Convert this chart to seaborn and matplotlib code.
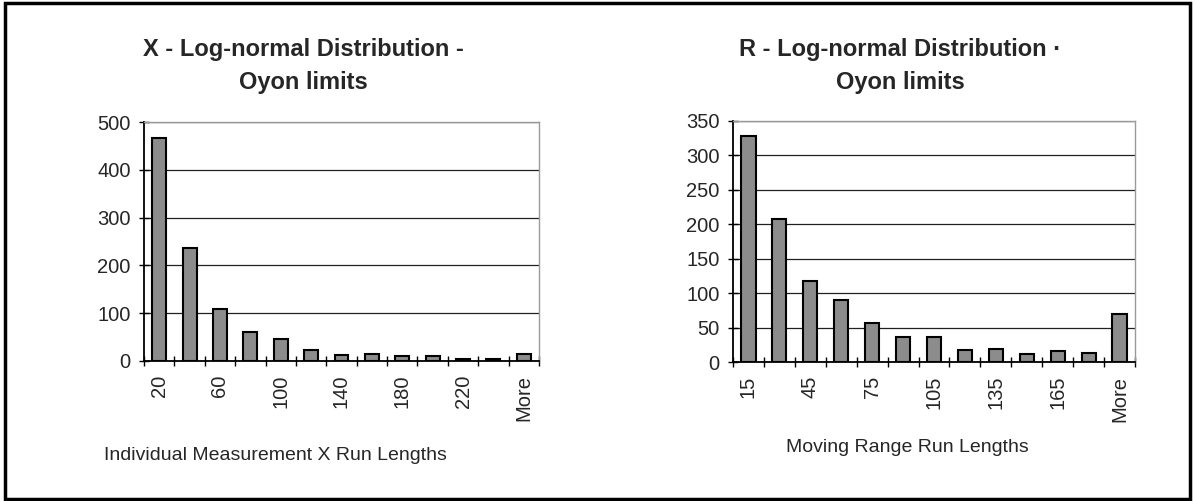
import matplotlib
matplotlib.use("Agg")
import matplotlib.pyplot as plt
from matplotlib.patches import Rectangle
import seaborn as sns
import pandas as pd

# Run-length histograms (bin upper limits and counts)
x_bins = ["20", "40", "60", "80", "100", "120", "140", "160", "180", "200", "220", "240", "More"]
x_counts = [466, 237, 109, 60, 45, 23, 12, 15, 11, 11, 5, 5, 14]

r_bins = ["15", "30", "45", "60", "75", "90", "105", "120", "135", "150", "165", "180", "More"]
r_counts = [328, 207, 118, 90, 56, 36, 36, 17, 19, 12, 16, 13, 69]

x_title = "X - Log-normal Distribution -\nOyon limits"
r_title = "R - Log-normal Distribution \u00b7\nOyon limits"
x_xlabel = "Individual Measurement X Run Lengths"
r_xlabel = "Moving Range Run Lengths"

sns.set_theme(style="white")
plt.rcParams["font.family"] = ["Liberation Sans", "DejaVu Sans"]

W, H = 1195, 501
fig = plt.figure(figsize=(W / 100, H / 100), dpi=100)
fig.patch.set_facecolor("white")


def px_axes(x0, y0, x1, y1):
    return fig.add_axes([x0 / W, 1 - y1 / H, (x1 - x0) / W, (y1 - y0) / H])


def draw_hist(ax, bins, counts, ymax, ystep):
    df = pd.DataFrame({"bin": bins, "count": counts})
    sns.barplot(data=df, x="bin", y="count", order=bins, color="#8c8c8c",
                saturation=1, width=0.46, edgecolor="black", linewidth=1.5, ax=ax)
    ax.set_xlim(-0.5, len(bins) - 0.5)
    ax.set_ylim(0, ymax)
    ax.set_yticks(range(0, ymax + 1, ystep))
    ax.yaxis.grid(True, color="#202020", linewidth=0.9)
    ax.set_axisbelow(True)
    # category labels on every other bin, tick marks on bin boundaries
    ax.set_xticks(range(len(bins)))
    ax.set_xticklabels([b if i % 2 == 0 else "" for i, b in enumerate(bins)],
                       rotation=90, fontsize=14.5)
    ax.tick_params(axis="x", which="major", length=0, pad=10)
    ax.set_xticks([i - 0.5 for i in range(len(bins) + 1)], minor=True)
    ax.tick_params(axis="x", which="minor", direction="inout", length=7,
                   width=1, color="black", bottom=True)
    ax.tick_params(axis="y", direction="inout", length=7, width=1,
                   color="black", left=True, labelsize=14.5, pad=6)
    ax.set_xlabel("")
    ax.set_ylabel("")
    for side in ("left", "bottom"):
        ax.spines[side].set_color("black")
        ax.spines[side].set_linewidth(1.3)
    for side in ("top", "right"):
        ax.spines[side].set_color("#9a9a9a")
        ax.spines[side].set_linewidth(1.0)


ax1 = px_axes(144, 122, 539, 361)
draw_hist(ax1, x_bins, x_counts, 500, 100)

ax2 = px_axes(733, 121, 1135, 362)
draw_hist(ax2, r_bins, r_counts, 350, 50)

# titles
fig.text(303 / W, 1 - 66 / H, x_title, ha="center", va="center",
         fontsize=17, fontweight="bold", linespacing=1.6)
fig.text(900 / W, 1 - 66 / H, r_title, ha="center", va="center",
         fontsize=17, fontweight="bold", linespacing=1.6)

# axis captions
fig.text(275 / W, 1 - 455 / H, x_xlabel, ha="center", va="center", fontsize=14)
fig.text(907 / W, 1 - 448 / H, r_xlabel, ha="center", va="center", fontsize=14)

# outer frame
fig.patches.append(Rectangle((5 / W, 2 / H), (1190 - 5) / W, (498 - 2) / H,
                             transform=fig.transFigure, fill=False,
                             edgecolor="black", linewidth=2.5))

fig.savefig("out.png", dpi=100, facecolor="white")
